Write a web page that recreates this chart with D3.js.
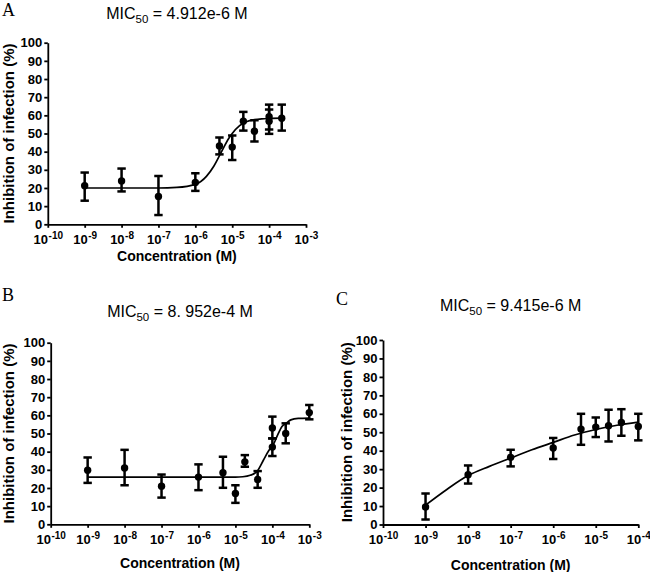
<!DOCTYPE html>
<meta charset="utf-8">
<style>
body { margin: 0; background: #fff; }
svg { display: block; background: #fff; font-family: Arial, "Liberation Sans", Helvetica, sans-serif; }
.axis path, .axis line { stroke: #000; stroke-width: 1.8px; }
.axis text { fill: #000; font-weight: bold; font-size: 13px; font-family: Arial, "Liberation Sans", sans-serif; }
.axis .sup { font-size: 10px; font-weight: bold; }
.title { font-size: 16px; fill: #000; }
.letter { font-family: "Times New Roman", "Liberation Serif", serif; font-size: 18px; fill: #000; }
.label { font-weight: bold; fill: #000; }
.curve { fill: none; stroke: #000; stroke-width: 1.7px; }
.err { stroke: #000; stroke-width: 2.5px; }
</style>
<body>
<svg id="svg" width="650" height="572"></svg>
<script src="https://cdn.jsdelivr.net/npm/d3@7/dist/d3.min.js"></script>
<script>
// ---- panel A ----
const concA = [1e-9, 1e-8, 1e-7, 1e-6, 4.5e-6, 1e-5, 2e-5, 4e-5, 1e-4, 1e-4, 2.2e-4];
const meanA = [21.2, 23.9, 15.3, 23, 43.1, 42.5, 56.8, 51.3, 59.2, 56.8, 58.4];
const lowA  = [13, 18.1, 5.1, 18.4, 38.5, 35.4, 51.6, 45.6, 52.2, 49.8, 51.6];
const highA = [28.5, 30.7, 26.6, 28.1, 47.8, 48.9, 61.9, 57.3, 65.9, 63.2, 65.9];
// fitted curve: log10(conc), inhibition
const fitLogA = [-9, -8, -7, -6.5, -6, -5.7, -5.5, -5.3, -5.1, -5, -4.8, -4.6, -4.4, -4.2, -4, -3.66];
const fitValA = [20, 20, 20, 20.3, 22, 26.4, 32, 39.6, 47.1, 50, 54.3, 56.6, 57.6, 58.1, 58.3, 58.45];

// ---- panel B ----
const concB = [1e-9, 1e-8, 1e-7, 1e-6, 4.6e-6, 1e-5, 1.8e-5, 4e-5, 1e-4, 1e-4, 2.3e-4, 1e-3];
const meanB = [29.8, 31, 21, 26, 28.4, 17, 34.4, 24.7, 53, 42.5, 50, 61.5];
const lowB  = [22.8, 21.5, 14.7, 18.8, 20.1, 11.8, 31.7, 20.1, 47.3, 37.6, 44.6, 57.8];
const highB = [36.8, 41, 27.4, 33, 37.2, 21.5, 38.1, 29.3, 59.3, 47.3, 55.6, 65.7];
const fitLogB = [-9, -8, -7, -6, -5, -4.8, -4.6, -4.42, -4.24, -4.1, -3.97, -3.85, -3.74, -3.63, -3.5, -3.3, -3];
const fitValB = [26, 26, 26, 26, 26, 26.2, 27, 29, 35.4, 40.5, 44, 49.5, 53.8, 55.5, 57.5, 58.3, 58.5];

// ---- panel C ----
const concC = [1e-9, 1e-8, 1e-7, 1e-6, 4.5e-6, 1e-5, 2e-5, 4e-5, 1e-4];
const meanC = [9.5, 27, 36.4, 41.5, 51.7, 52.8, 53.5, 55.3, 53.1];
const lowC  = [2.7, 22.2, 31.5, 35.5, 43.2, 47.4, 45, 48.1, 45.6];
const highC = [16.8, 32, 40.5, 46.9, 60, 58, 62.2, 62.5, 60];
const fitLogC = [-9, -8.5, -8, -7.5, -7, -6.5, -6, -5.5, -5, -4.5, -4];
const fitValC = [10.5, 19, 26.5, 31.5, 36, 40.5, 44.5, 48.5, 51.5, 53.8, 55.5];

// axis ticks
const yTicks = [0, 10, 20, 30, 40, 50, 60, 70, 80, 90, 100];
const expsLong = [-10, -9, -8, -7, -6, -5, -4, -3];
const expsShort = [-10, -9, -8, -7, -6, -5, -4];

const titles = [
  {letter: "A", mic: "4.912e-6"},
  {letter: "B", mic: "8. 952e-4"},
  {letter: "C", mic: "9.415e-6"}
];

const svg = d3.select("#svg");

function drawPanel(cfg) {
  const x = d3.scaleLog().domain(cfg.domain).range([cfg.x0, cfg.x1]);
  const y = d3.scaleLinear().domain([0, 100]).range([cfg.yBot, cfg.yTop]);
  const g = svg.append("g");

  // y axis
  g.append("g")
    .attr("class", "axis")
    .attr("transform", "translate(" + cfg.x0 + ",0)")
    .call(d3.axisLeft(y).tickValues(yTicks).tickSize(3.5).tickSizeOuter(0).tickPadding(2).tickFormat(d3.format("d")));

  // x axis with 10^n labels
  const xa = g.append("g")
    .attr("class", "axis")
    .attr("transform", "translate(0," + cfg.yBot + ")")
    .call(d3.axisBottom(x).tickValues(cfg.exps.map(e => Math.pow(10, e))).tickSize(3.5).tickSizeOuter(0).tickPadding(7).tickFormat(""));
  xa.selectAll(".tick text").each(function(d, i) {
    const t = d3.select(this).attr("text-anchor", "middle");
    t.append("tspan").text("10");
    t.append("tspan").attr("class", "sup").attr("dx", 0.5).attr("dy", "-5").text(cfg.exps[i]);
  });

  // fitted curve
  const pts = cfg.fitLog.map((l, i) => [Math.pow(10, l), cfg.fitVal[i]]);
  g.append("path")
    .datum(pts)
    .attr("class", "curve")
    .attr("d", d3.line().x(d => x(d[0])).y(d => y(d[1])).curve(d3.curveMonotoneX));

  // error bars and points
  const pt = g.selectAll(".pt").data(cfg.conc).enter().append("g").attr("class", "pt");
  pt.append("line").attr("class", "err")
    .attr("x1", d => x(d)).attr("x2", d => x(d))
    .attr("y1", (d, i) => y(cfg.low[i])).attr("y2", (d, i) => y(cfg.high[i]));
  pt.append("line").attr("class", "err")
    .attr("x1", d => x(d) - 4.2).attr("x2", d => x(d) + 4.2)
    .attr("y1", (d, i) => y(cfg.high[i])).attr("y2", (d, i) => y(cfg.high[i]));
  pt.append("line").attr("class", "err")
    .attr("x1", d => x(d) - 4.2).attr("x2", d => x(d) + 4.2)
    .attr("y1", (d, i) => y(cfg.low[i])).attr("y2", (d, i) => y(cfg.low[i]));
  pt.append("circle")
    .attr("cx", d => x(d)).attr("cy", (d, i) => y(cfg.mean[i]))
    .attr("r", 3.7).attr("fill", "#000");

  const cx = (cfg.x0 + cfg.x1) / 2;

  // title MIC50
  const tt = g.append("text").attr("class", "title")
    .attr("x", cx).attr("y", cfg.titleY).attr("text-anchor", "middle");
  tt.append("tspan").text("MIC");
  tt.append("tspan").attr("dy", 4).style("font-size", "11.5px").text("50");
  tt.append("tspan").attr("dy", -4).text(" = " + cfg.title.mic + " M");

  // panel letter
  g.append("text").attr("class", "letter")
    .attr("x", cfg.letterX).attr("y", cfg.letterY).text(cfg.title.letter);

  // axis labels
  g.append("text").attr("class", "label")
    .attr("x", cx).attr("y", cfg.xLabelY).attr("text-anchor", "middle")
    .style("font-size", "14px").text("Concentration (M)");
  g.append("text").attr("class", "label")
    .attr("text-anchor", "middle").style("font-size", "15px")
    .attr("transform", "translate(" + cfg.yLabelX + "," + ((cfg.yTop + cfg.yBot) / 2) + ")rotate(-90)")
    .text("Inhibition of infection (%)");
}

drawPanel({
  title: titles[0], domain: [1e-10, 1e-3], exps: expsLong,
  x0: 47.8, x1: 306, yTop: 42.7, yBot: 224.3,
  titleY: 19, letterX: 2, letterY: 16, xLabelY: 261, yLabelX: 14,
  conc: concA, mean: meanA, low: lowA, high: highA, fitLog: fitLogA, fitVal: fitValA
});
drawPanel({
  title: titles[1], domain: [1e-10, 1e-3], exps: expsLong,
  x0: 50.7, x1: 309.3, yTop: 342.7, yBot: 524.3,
  titleY: 317, letterX: 2, letterY: 301, xLabelY: 568, yLabelX: 14,
  conc: concB, mean: meanB, low: lowB, high: highB, fitLog: fitLogB, fitVal: fitValB
});
drawPanel({
  title: titles[2], domain: [1e-10, 1e-4], exps: expsShort,
  x0: 383, x1: 638.3, yTop: 340, yBot: 524.5,
  titleY: 311, letterX: 336, letterY: 305, xLabelY: 570, yLabelX: 352,
  conc: concC, mean: meanC, low: lowC, high: highC, fitLog: fitLogC, fitVal: fitValC
});
</script>
</body>
